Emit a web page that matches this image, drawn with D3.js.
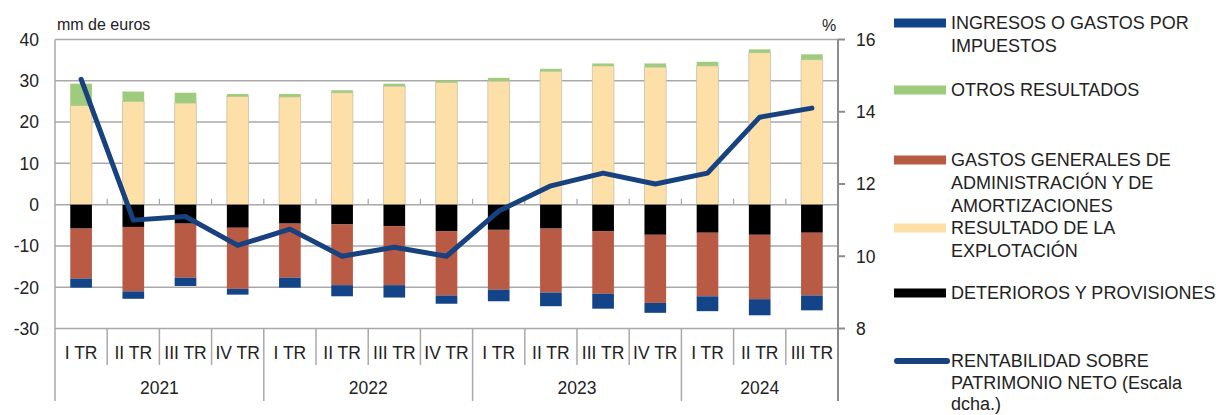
<!DOCTYPE html>
<html>
<head>
<meta charset="utf-8">
<script src="https://cdn.jsdelivr.net/npm/d3@7"></script>
<style>
  body { margin: 0; background: #fff; }
  svg text { font-family: "Liberation Sans", Arial, sans-serif; fill: #222; }
</style>
</head>
<body>
<div id="chart"></div>
<script>
// Chart data
const years = ['2021', '2022', '2023', '2024'];
const quarters = ['I TR', 'II TR', 'III TR', 'IV TR', 'I TR', 'II TR', 'III TR', 'IV TR',
                  'I TR', 'II TR', 'III TR', 'IV TR', 'I TR', 'II TR', 'III TR'];
const quartersPerYear = [4, 4, 4, 3];

const resultado   = [24.0, 25.0, 24.6, 26.2, 26.1, 27.1, 28.7, 29.6, 29.9, 32.3, 33.6, 33.3, 33.6, 36.8, 35.1];
const otros       = [5.3, 2.4, 2.5, 0.6, 0.7, 0.6, 0.6, 0.5, 0.8, 0.6, 0.6, 0.9, 1.0, 0.8, 1.3];
const deterioros  = [-5.8, -5.4, -4.6, -5.6, -4.6, -4.8, -5.2, -6.4, -6.1, -5.8, -6.4, -7.3, -6.8, -7.3, -6.8];
const gastos      = [-12.1, -15.6, -13.1, -14.8, -13.1, -14.7, -14.3, -15.6, -14.5, -15.5, -15.2, -16.5, -15.4, -15.6, -15.2];
const impuestos   = [-2.2, -1.8, -2.0, -1.4, -2.4, -2.7, -3.0, -2.0, -2.8, -3.3, -3.6, -2.4, -3.6, -3.9, -3.6];
const rentabilidad = [14.9, 11.0, 11.1, 10.3, 10.75, 10.0, 10.25, 10.0, 11.25, 11.95, 12.3, 12.0, 12.3, 13.85, 14.1];

const leftTicks = [-30, -20, -10, 0, 10, 20, 30, 40];
const rightTicks = [8, 10, 12, 14, 16];

const colors = {
    resultado: '#fde0a8',
    otros: '#9fcb7c',
    deterioros: '#000000',
    gastos: '#b95a45',
    impuestos: '#134487',
    line: '#17427f'
};

const width = 1216, height = 415;
const plot = { left: 55, right: 838, top: 39.5, bottom: 328.5 };

const svg = d3.select('#chart').append('svg')
    .attr('width', width)
    .attr('height', height);

const x = d3.scaleBand()
    .domain(d3.range(quarters.length))
    .range([plot.left, plot.right])
    .paddingInner(0.585)
    .paddingOuter(0.2925);

const step = x.step();

const y = d3.scaleLinear()
    .domain([-30, 40])
    .range([plot.bottom, plot.top]);

const y2 = d3.scaleLinear()
    .domain([8, 16])
    .range([plot.bottom, plot.top]);

// Gridlines
svg.append('g')
    .selectAll('line')
    .data(leftTicks)
    .join('line')
    .attr('x1', plot.left)
    .attr('x2', plot.right)
    .attr('y1', d => y(d))
    .attr('y2', d => y(d))
    .attr('stroke', '#a9a9a9')
    .attr('stroke-width', 1.5);

// Left axis labels
svg.append('g')
    .selectAll('text')
    .data(leftTicks)
    .join('text')
    .attr('x', 39)
    .attr('y', d => y(d))
    .attr('dy', '0.36em')
    .attr('text-anchor', 'end')
    .attr('font-size', '17.5px')
    .text(d => d);

// Stacked bars
const rows = quarters.map((q, i) => ({
    resultado: resultado[i],
    otros: otros[i],
    deterioros: deterioros[i],
    gastos: gastos[i],
    impuestos: impuestos[i]
}));

const keys = ['resultado', 'otros', 'deterioros', 'gastos', 'impuestos'];
const series = d3.stack()
    .keys(keys)
    .offset(d3.stackOffsetDiverging)(rows);

svg.append('g')
    .selectAll('g')
    .data(series)
    .join('g')
    .attr('fill', d => colors[d.key])
    .attr('stroke', d => d.key === 'resultado' ? '#c8c0b0' : 'none')
    .attr('stroke-width', 0.8)
    .selectAll('rect')
    .data(d => d)
    .join('rect')
    .attr('x', (d, i) => x(i))
    .attr('width', x.bandwidth())
    .attr('y', d => y(Math.max(d[0], d[1])))
    .attr('height', d => Math.abs(y(d[0]) - y(d[1])));

// Small ticks on the zero line between quarters
svg.append('g')
    .selectAll('line')
    .data(d3.range(1, quarters.length))
    .join('line')
    .attr('x1', i => plot.left + i * step)
    .attr('x2', i => plot.left + i * step)
    .attr('y1', y(0))
    .attr('y2', y(0) - 6)
    .attr('stroke', '#a9a9a9')
    .attr('stroke-width', 1.2);

// Left axis line
svg.append('line')
    .attr('x1', plot.left).attr('x2', plot.left)
    .attr('y1', plot.top).attr('y2', 401)
    .attr('stroke', '#a9a9a9')
    .attr('stroke-width', 1.5);

// Right axis
const rightAxis = svg.append('g');
rightAxis.append('line')
    .attr('x1', plot.right).attr('x2', plot.right)
    .attr('y1', plot.top).attr('y2', 401)
    .attr('stroke', '#8c8c8c')
    .attr('stroke-width', 2);

rightAxis.selectAll('line.tick')
    .data(rightTicks)
    .join('line')
    .attr('class', 'tick')
    .attr('x1', plot.right)
    .attr('x2', plot.right + 7)
    .attr('y1', d => y2(d))
    .attr('y2', d => y2(d))
    .attr('stroke', '#8c8c8c')
    .attr('stroke-width', 2);

rightAxis.selectAll('text')
    .data(rightTicks)
    .join('text')
    .attr('x', 856)
    .attr('y', d => y2(d))
    .attr('dy', '0.36em')
    .attr('font-size', '17.5px')
    .text(d => d);

// Category axis
const catAxis = svg.append('g');
catAxis.selectAll('line')
    .data(d3.range(1, quarters.length))
    .join('line')
    .attr('x1', i => plot.left + i * step)
    .attr('x2', i => plot.left + i * step)
    .attr('y1', plot.bottom)
    .attr('y2', 365)
    .attr('stroke', '#a9a9a9')
    .attr('stroke-width', 1.5);

catAxis.selectAll('text')
    .data(quarters)
    .join('text')
    .attr('x', (d, i) => x(i) + x.bandwidth() / 2)
    .attr('y', 353)
    .attr('dy', '0.36em')
    .attr('text-anchor', 'middle')
    .attr('font-size', '17.5px')
    .text(d => d);

// Year groups
let start = 0;
const yearSpans = years.map((yr, i) => {
    const span = { year: yr, from: start, to: start + quartersPerYear[i] };
    start += quartersPerYear[i];
    return span;
});

catAxis.selectAll('line.year')
    .data(yearSpans.slice(1))
    .join('line')
    .attr('class', 'year')
    .attr('x1', d => plot.left + d.from * step)
    .attr('x2', d => plot.left + d.from * step)
    .attr('y1', 365)
    .attr('y2', 401)
    .attr('stroke', '#a9a9a9')
    .attr('stroke-width', 1.5);

catAxis.selectAll('text.year')
    .data(yearSpans)
    .join('text')
    .attr('class', 'year')
    .attr('x', d => plot.left + (d.from + d.to) / 2 * step)
    .attr('y', 388)
    .attr('dy', '0.36em')
    .attr('text-anchor', 'middle')
    .attr('font-size', '17.5px')
    .text(d => d.year);

// Line (right scale)
const line = d3.line()
    .x((d, i) => x(i) + x.bandwidth() / 2)
    .y(d => y2(d));

svg.append('path')
    .datum(rentabilidad)
    .attr('d', line)
    .attr('fill', 'none')
    .attr('stroke', colors.line)
    .attr('stroke-width', 5)
    .attr('stroke-linejoin', 'round')
    .attr('stroke-linecap', 'round');

// Axis units
svg.append('text')
    .attr('x', 57).attr('y', 24).attr('dy', '0.36em')
    .attr('font-size', '16px')
    .text('mm de euros');

svg.append('text')
    .attr('x', 822).attr('y', 25).attr('dy', '0.36em')
    .attr('font-size', '16px')
    .text('%');

// Legend
const legendItems = [
    { key: 'impuestos', y: 23, gap: 22.6, lines: ['INGRESOS O GASTOS POR', 'IMPUESTOS'] },
    { key: 'otros', y: 90, gap: 22.6, lines: ['OTROS RESULTADOS'] },
    { key: 'gastos', y: 160, gap: 22.6, lines: ['GASTOS GENERALES DE', 'ADMINISTRACIÓN Y DE', 'AMORTIZACIONES'] },
    { key: 'resultado', y: 228, gap: 22.6, lines: ['RESULTADO DE LA', 'EXPLOTACIÓN'] },
    { key: 'deterioros', y: 293, gap: 22.6, lines: ['DETERIOROS Y PROVISIONES'] },
    { key: 'line', y: 361, gap: 21.3, lines: ['RENTABILIDAD SOBRE', 'PATRIMONIO NETO (Escala', 'dcha.)'] }
];

const legend = svg.append('g');
legendItems.forEach(item => {
    if (item.key === 'line') {
        legend.append('line')
            .attr('x1', 897).attr('x2', 947)
            .attr('y1', item.y).attr('y2', item.y)
            .attr('stroke', colors.line)
            .attr('stroke-width', 6)
            .attr('stroke-linecap', 'round');
    } else {
        legend.append('rect')
            .attr('x', 894).attr('y', item.y - 4.5)
            .attr('width', 52).attr('height', 9)
            .attr('fill', colors[item.key]);
    }
    item.lines.forEach((t, j) => {
        legend.append('text')
            .attr('x', 951)
            .attr('y', item.y + j * item.gap)
            .attr('dy', '0.36em')
            .attr('font-size', '18px')
            .text(t);
    });
});
</script>
</body>
</html>
